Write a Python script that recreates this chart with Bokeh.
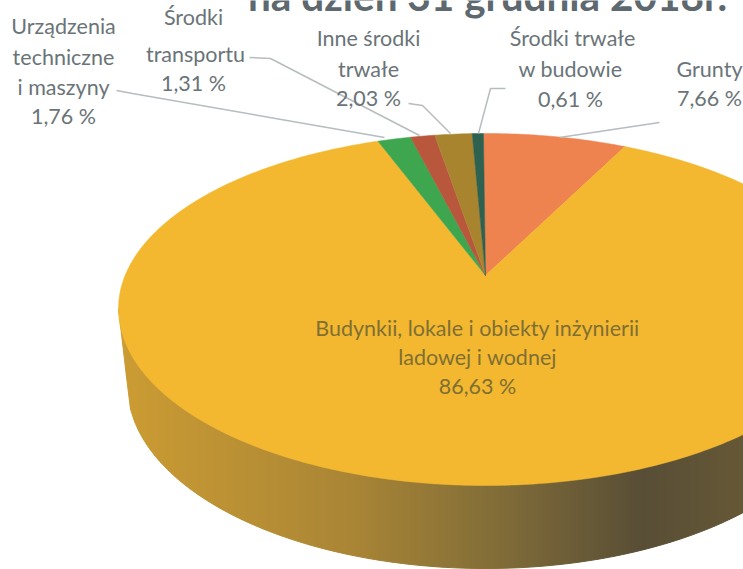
import math
from bokeh.plotting import figure
from bokeh.embed import file_html
from bokeh.resources import INLINE
from bokeh.core.properties import value

# Data (clockwise from 12 o'clock)
categories = ["Grunty", "Budynkii, lokale i obiekty inżynierii lądowej i wodnej",
              "Urządzenia techniczne i maszyny", "Środki transportu",
              "Inne środki trwałe", "Środki trwałe w budowie"]
shares = [7.66, 86.63, 1.76, 1.31, 2.03, 0.61]
colors = ["#ee8350", "#f3b82f", "#3fa650", "#b9573d", "#a9842f", "#2f6150"]

title = "na dzień 31 grudnia 2018r."
label_lines = ["Urządzenia", "techniczne", "i maszyny", "1,76 %",
               "Środki", "transportu", "1,31 %",
               "Inne środki", "trwałe", "2,03 %",
               "Środki trwałe", "w budowie", "0,61 %",
               "Grunty", "7,66 %"]
inner_lines = ["Budynkii, lokale i obiekty inżynierii", "ladowej i wodnej", "86,63 %"]

# Layout: reference-pixel space
W, H = 743, 569
p = figure(width=W, height=H, x_range=(0, W), y_range=(H, 0),
           output_backend="svg", toolbar_location=None, min_border=0,
           outline_line_color=None, background_fill_color="white")
p.axis.visible = False
p.grid.visible = False

CX, CY, RX, RY, RY_LOW = 485, 308, 367, 175, 177   # top face
BCY, BRX, BRY = 385, 358, 183                      # lower rim of the wall
APX, APY = 485, 275                                # apex
SQUEEZE = 0.8                                      # perspective squeeze of angles


def param(deg):
    t = math.radians(deg)
    return math.atan2(SQUEEZE * math.sin(t), math.cos(t))


def rim(t):
    c = math.cos(t)
    return CX + RX * math.sin(t), CY - (RY if c > 0 else RY_LOW) * c


# Wall, drawn as narrow strips carrying the lighting gradient
stops = [(118, (0xcc, 0x9c, 0x33)), (350, (0xa9, 0x85, 0x35)), (500, (0x80, 0x6c, 0x38)),
         (640, (0x58, 0x4e, 0x36)), (743, (0x66, 0x58, 0x36))]


def shade(x):
    for (x0, c0), (x1, c1) in zip(stops, stops[1:]):
        if x <= x1:
            f = (x - x0) / (x1 - x0)
            return "#%02x%02x%02x" % tuple(round(a + (b - a) * f) for a, b in zip(c0, c1))
    return "#%02x%02x%02x" % stops[-1][1]


def top_low(x):
    u = max(-1, min(1, (x - CX) / RX))
    return CY + RY_LOW * math.sqrt(1 - u * u)


def wall_low(x):
    u = (x - CX) / BRX
    if u < -1:
        return CY + (BCY - CY) * (x - (CX - RX)) / (CX - BRX - (CX - RX))
    return BCY + BRY * math.sqrt(max(0, 1 - u * u))


sx, sy, sc = [], [], []
x = CX - RX
while x < 752:
    n = x + 4
    sx.append([x, n, n, x])
    sy.append([top_low(x), top_low(n), wall_low(n), wall_low(x)])
    sc.append(shade(x))
    x = n
p.patches(sx, sy, fill_color=sc, line_color=sc, line_width=1)

# Top-face slices
angle = -0.4
for share, col in zip(shares, colors):
    a0, a1 = angle, angle + share * 3.6
    angle = a1
    n = max(3, int(share * 4))
    xs, ys = [APX], [APY]
    for i in range(n + 1):
        xp, yp = rim(param(a0 + (a1 - a0) * i / n))
        xs.append(xp)
        ys.append(yp)
    p.patch(xs, ys, fill_color=col, line_color=col, line_width=0.5)

# Leader lines
leaders = [([116, 132, 384], [90, 93, 137]),
           ([249, 270, 419], [57, 58, 135]),
           ([408, 422, 450], [103, 105, 133]),
           ([505, 490, 478], [88, 88, 133]),
           ([659, 559], [122, 137])]
for lx, ly in leaders:
    p.line(lx, ly, line_color="#b7bcbf", line_width=1.5)

# Title, cut by the top of the page as in the reference
p.text([487], [0], text=[title], text_font=value("Lato"), text_font_style="bold",
       text_font_size="40.5px", text_color="#5d686f", text_align="center",
       text_baseline="alphabetic", y_offset=-5)

# Outer labels
lab_x = [63, 63, 63, 63, 193, 195, 193, 368, 368, 368, 572, 570, 570, 709, 709]
lab_y = [25, 56, 86, 115, 16, 53, 82, 37, 68, 97, 37, 68, 98, 68, 97]
p.text(lab_x, lab_y, text=label_lines, text_font=value("Lato"), text_font_size="21.5px",
       text_color="#6a7478", text_align="center", text_baseline="middle")

# Label on the large slice
p.text([477, 477, 477], [327, 356, 385], text=inner_lines, text_font=value("Lato"),
       text_font_size="21.5px", text_color="#7f6f34", text_align="center",
       text_baseline="middle")

open("out.html", "w").write(file_html(p, INLINE))
